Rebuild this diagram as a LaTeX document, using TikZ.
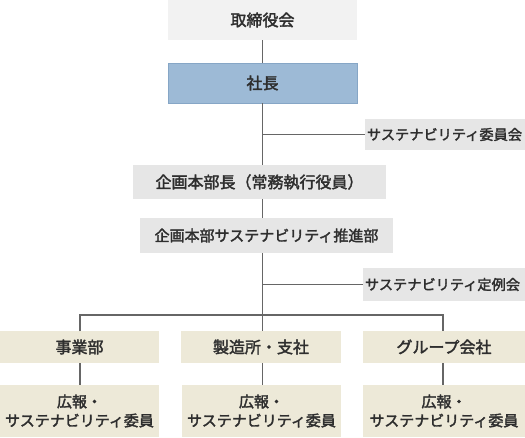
\documentclass[tikz,border=0pt]{standalone}
\usepackage{fontspec}
\setmainfont{Noto Sans CJK JP}
\newfontfamily\jp{Noto Sans CJK JP}[FakeBold=2.2]
\definecolor{topgray}{HTML}{F2F2F2}
\definecolor{boxgray}{HTML}{E6E6E6}
\definecolor{presblue}{HTML}{9DBAD6}
\definecolor{presborder}{HTML}{86A6C6}
\definecolor{beige}{HTML}{EDE9D8}
\definecolor{linegray}{HTML}{666666}
\definecolor{txt}{HTML}{2E2E2E}
\tikzset{
  box/.style={inner sep=0pt, text=txt, font=\jp\fontsize{16}{19.5}\selectfont, align=center},
  sidebox/.style={inner sep=0pt, text=txt, font=\jp\fontsize{14.2}{17}\selectfont, align=center},
  conn/.style={draw=linegray, line width=1.2pt},
}
\begin{document}
\begin{tikzpicture}[x=1pt,y=-1pt]
\useasboundingbox (0,0) rectangle (525,437);
\fill[topgray] (168,0) rectangle (357,40);
\node[box] (board) at (262.5,20) {取締役会};
\fill[presblue, draw=presborder, line width=0.8pt] (168,63) rectangle (357,103);
\node[box] (pres) at (262.5,83) {社長};
\fill[boxgray] (365,119) rectangle (525,150);
\node[sidebox] (comm) at (444.5,134.5) {サステナビリティ委員会};
\fill[boxgray] (133,165) rectangle (386,199);
\node[box] (head) at (259.5,182) {企画本部長（常務執行役員）};
\fill[boxgray] (140,218) rectangle (393,253);
\node[box, font=\jp\fontsize{15}{18}\selectfont] (promo) at (266.5,235.5) {企画本部サステナビリティ推進部};
\fill[boxgray] (363,268) rectangle (525,301);
\node[sidebox] (meet) at (442.5,284.5) {サステナビリティ定例会};
\fill[beige] (0,331) rectangle (159,363);
\node[box] (biz) at (79.5,347) {事業部};
\fill[beige] (181,331) rectangle (341,363);
\node[box] (mfg) at (261,347) {製造所・支社};
\fill[beige] (363,331) rectangle (525,363);
\node[box] (grp) at (444,347) {グループ会社};
\fill[beige] (0,385) rectangle (159,437);
\node[box, font=\jp\fontsize{15}{19}\selectfont] (m1) at (79.5,411) {広報・\\サステナビリティ委員};
\fill[beige] (182,385) rectangle (341,437);
\node[box, font=\jp\fontsize{15}{19}\selectfont] (m2) at (261.5,411) {広報・\\サステナビリティ委員};
\fill[beige] (363,385) rectangle (525,437);
\node[box, font=\jp\fontsize{15}{19}\selectfont] (m3) at (444,411) {広報・\\サステナビリティ委員};
\coordinate (bb) at (262.5,40);
\coordinate (pt) at (262.5,63);
\coordinate (pb) at (262.5,103);
\coordinate (ht) at (262.5,165);
\coordinate (hb) at (262.5,199);
\coordinate (prt) at (262.5,218);
\coordinate (prb) at (262.5,253);
\coordinate (c1) at (262.5,134.5);
\coordinate (c2) at (262.5,284.5);
\coordinate (split) at (262.5,315);
\coordinate (cl) at (365,134.5);
\coordinate (ml) at (363,284.5);
\draw[conn] (bb) -- (pt);
\draw[conn] (pb) -- (ht);
\draw[conn] (c1) -- (cl);
\draw[conn] (hb) -- (prt);
\draw[conn] (prb) -- (split);
\draw[conn] (c2) -- (ml);
\draw[conn] (80,331) |- (split) -| (443,331);
\draw[conn] (split) -- (262.5,331);
\draw[conn] (80,363) -- (80,385);
\draw[conn] (262.5,363) -- (262.5,385);
\draw[conn] (443,363) -- (443,385);
\end{tikzpicture}
\end{document}
